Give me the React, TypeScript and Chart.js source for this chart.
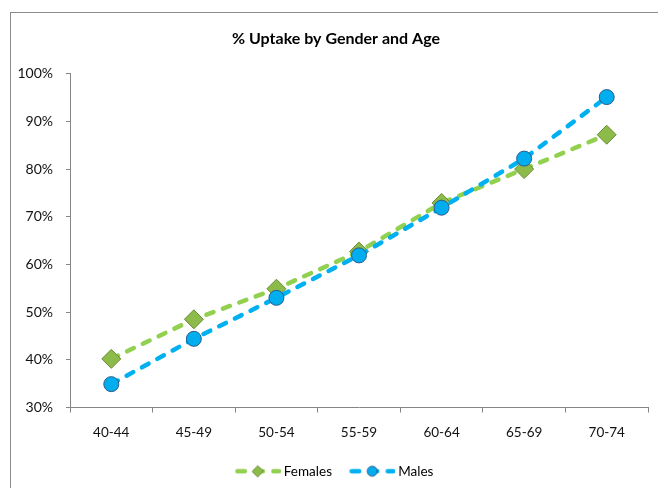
import React, { useEffect, useRef } from "react";
import { Chart, registerables } from "chart.js";

Chart.register(...registerables);

// Age bands on the category axis
const ageGroups = ["40-44", "45-49", "50-54", "55-59", "60-64", "65-69", "70-74"];

// Uptake (%) per age band
const femalesUptake = [40.2, 48.5, 54.9, 62.7, 72.9, 80.0, 87.2];
const malesUptake = [34.9, 44.4, 53.0, 61.9, 71.9, 82.2, 95.1];

// Value axis range
const yMin = 30;
const yMax = 100;
const yStep = 10;

const seriesNames = ["Females", "Males"];

const FONT = "Lato, 'Open Sans', 'DejaVu Sans', sans-serif";
const AXIS_GREY = "#868686";

const FEMALE_LINE = "#92D050";
const FEMALE_FILL = "#8DBB4A";
const FEMALE_EDGE = "#6B8A35";
const MALE_LINE = "#00B0F0";
const MALE_FILL = "#00AEEF";
const MALE_EDGE = "#2F5B8C";

// Small "dashed line + marker" swatch used as the legend symbol
function legendSwatch(
  line: string,
  fill: string,
  edge: string,
  shape: "diamond" | "circle"
): HTMLCanvasElement {
  const c = document.createElement("canvas");
  c.width = 46;
  c.height = 14;
  const g = c.getContext("2d") as CanvasRenderingContext2D;
  g.strokeStyle = line;
  g.lineWidth = 4.5;
  g.lineCap = "round";
  g.setLineDash([7.5, 10.5]);
  g.beginPath();
  g.moveTo(2.5, 7);
  g.lineTo(44, 7);
  g.stroke();
  g.setLineDash([]);
  g.fillStyle = fill;
  g.strokeStyle = edge;
  g.lineWidth = 1;
  g.beginPath();
  if (shape === "diamond") {
    const r = 5.5;
    g.moveTo(23 - r, 7);
    g.lineTo(23, 7 - r);
    g.lineTo(23 + r, 7);
    g.lineTo(23, 7 + r);
    g.closePath();
  } else {
    g.arc(23, 7, 5, 0, Math.PI * 2);
  }
  g.fill();
  g.stroke();
  return c;
}

export default function App() {
  const canvasRef = useRef<HTMLCanvasElement | null>(null);

  useEffect(() => {
    const canvas = canvasRef.current;
    if (!canvas) return;

    const femaleSwatch = legendSwatch(FEMALE_LINE, FEMALE_FILL, FEMALE_EDGE, "diamond");
    const maleSwatch = legendSwatch(MALE_LINE, MALE_FILL, MALE_EDGE, "circle");

    const chart = new Chart(canvas, {
      type: "line",
      data: {
        labels: ageGroups,
        datasets: [
          {
            label: seriesNames[0],
            data: femalesUptake,
            order: 1,
            borderColor: FEMALE_LINE,
            borderWidth: 4.5,
            borderDash: [7.5, 10],
            borderCapStyle: "round",
            tension: 0,
            fill: false,
            pointStyle: "rectRot",
            pointRadius: 9.5,
            pointBackgroundColor: FEMALE_FILL,
            pointBorderColor: FEMALE_EDGE,
            pointBorderWidth: 1,
          },
          {
            label: seriesNames[1],
            data: malesUptake,
            order: 0,
            borderColor: MALE_LINE,
            borderWidth: 4.5,
            borderDash: [7.5, 10],
            borderCapStyle: "round",
            tension: 0,
            fill: false,
            pointStyle: "circle",
            pointRadius: 7.5,
            pointBackgroundColor: MALE_FILL,
            pointBorderColor: MALE_EDGE,
            pointBorderWidth: 1,
          },
        ],
      },
      options: {
        responsive: false,
        animation: false,
        devicePixelRatio: 1,
        layout: { padding: { left: 0, right: 0, top: 0, bottom: 0 } },
        scales: {
          x: {
            type: "category",
            offset: true,
            grid: {
              display: true,
              offset: true,
              drawOnChartArea: false,
              drawTicks: true,
              tickLength: 5,
              color: AXIS_GREY,
            },
            border: { display: true, color: AXIS_GREY, width: 1 },
            ticks: {
              padding: 12,
              color: "#111",
              font: { family: FONT, size: 13.5 },
              maxRotation: 0,
            },
            afterFit: (s: any) => {
              s.height = 36;
            },
          },
          y: {
            type: "linear",
            position: "left",
            min: yMin,
            max: yMax,
            grid: {
              display: true,
              drawOnChartArea: false,
              drawTicks: true,
              tickLength: 4,
              color: AXIS_GREY,
            },
            border: { display: true, color: AXIS_GREY, width: 1 },
            ticks: {
              stepSize: yStep,
              padding: 13,
              color: "#111",
              font: { family: FONT, size: 14 },
              callback: (v: any) => `${v}%`,
            },
            afterFit: (s: any) => {
              s.width = 70;
            },
          },
          // empty right-hand gutter that keeps the plot clear of the frame edge
          gutter: {
            type: "linear",
            position: "right",
            display: true,
            grid: { display: false },
            border: { display: false },
            ticks: { display: false },
            afterFit: (s: any) => {
              s.width = 24;
            },
          },
        },
        plugins: {
          title: {
            display: true,
            text: "% Uptake by Gender and Age",
            color: "#000",
            font: { family: FONT, size: 16, weight: "bold" },
            padding: { top: 29.5, bottom: 25 },
          },
          legend: {
            display: true,
            position: "bottom",
            labels: {
              usePointStyle: true,
              pointStyleWidth: 38.5,
              padding: 21,
              color: "#111",
              font: { family: FONT, size: 13.5 },
              generateLabels: () => [
                {
                  text: seriesNames[0],
                  pointStyle: femaleSwatch,
                  fillStyle: FEMALE_FILL,
                  strokeStyle: "transparent",
                  lineWidth: 0,
                  hidden: false,
                  datasetIndex: 0,
                },
                {
                  text: seriesNames[1],
                  pointStyle: maleSwatch,
                  fillStyle: MALE_FILL,
                  strokeStyle: "transparent",
                  lineWidth: 0,
                  hidden: false,
                  datasetIndex: 1,
                },
              ],
            },
          },
          tooltip: { enabled: false },
        },
      },
    } as any);

    return () => {
      chart.destroy();
    };
  }, []);

  return (
    <div
      style={{
        position: "fixed",
        left: 0,
        top: 0,
        width: 658,
        height: 488,
        overflow: "hidden",
        background: "#fff",
      }}
    >
      <div
        style={{
          position: "absolute",
          left: 10,
          top: 12,
          width: 700,
          height: 600,
          border: "1px solid #8b8b8b",
        }}
      />
      <canvas
        ref={canvasRef}
        width={672}
        height={488}
        style={{ position: "absolute", left: 0, top: 0, width: 672, height: 488 }}
      />
    </div>
  );
}
